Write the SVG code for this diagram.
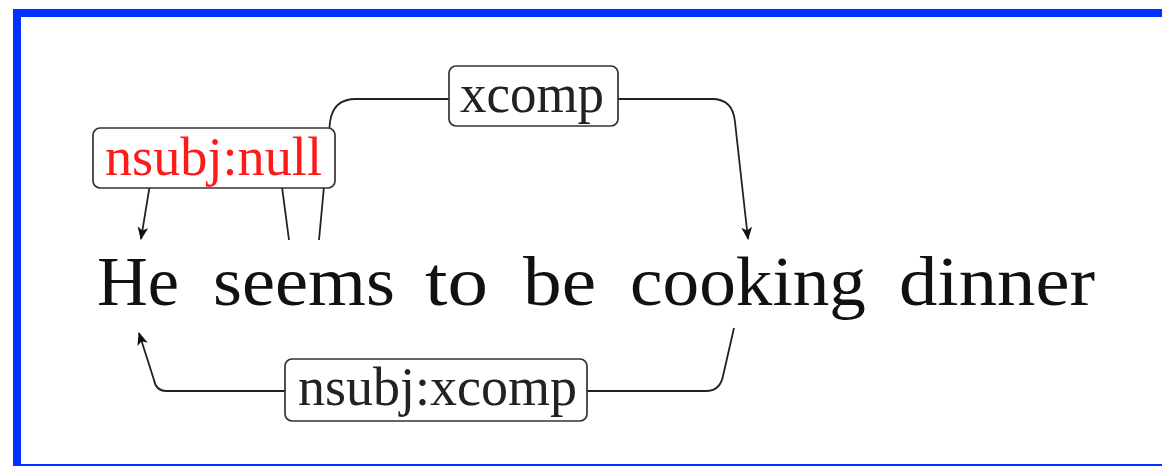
<svg xmlns="http://www.w3.org/2000/svg" width="1162" height="466" viewBox="0 0 1162 466">
<defs>
<style>
.word{font-family:"Liberation Serif","DejaVu Serif",serif;font-size:70px;fill:#111}
.lbl{font-family:"Liberation Serif","DejaVu Serif",serif;font-size:54px;fill:#222}
.box{fill:#fff;stroke:#333;stroke-width:1.7}
.edge{fill:none;stroke:#222;stroke-width:1.8}
</style>
<marker id="arr" viewBox="0 0 12 10" refX="11" refY="5" markerWidth="13" markerHeight="11" markerUnits="userSpaceOnUse" orient="auto">
<path d="M0,0 L12,5 L0,10 L3,5 Z" fill="#111"/>
</marker>
</defs>
<rect x="0" y="0" width="1162" height="466" fill="#fff"/>
<g id="frame" fill="#0033ff">
<rect x="13" y="9" width="1149" height="8"/>
<rect x="13" y="9" width="8" height="457"/>
<rect x="13" y="464" width="1149" height="2"/>
</g>
<g id="connectors">
<path class="edge" d="M289,240 L280,172 Q278,162 268,162 L162,162 Q153,162 152,172 L141,239" marker-end="url(#arr)"/>
<path class="edge" d="M319,240 L330,122 Q333,99 356,99 L712,99 Q733,99 735,122 L748,239" marker-end="url(#arr)"/>
<path class="edge" d="M734,328 L723,376 Q720,391 706,391 L166,391 Q156,391 154,380 L139,333" marker-end="url(#arr)"/>
</g>
<g id="w-He"><text class="word" x="97" y="305" textLength="82" lengthAdjust="spacingAndGlyphs">He</text></g>
<g id="w-seems"><text class="word" x="213" y="305" textLength="182" lengthAdjust="spacingAndGlyphs">seems</text></g>
<g id="w-to"><text class="word" x="425" y="305" textLength="63" lengthAdjust="spacingAndGlyphs">to</text></g>
<g id="w-be"><text class="word" x="523" y="305" textLength="73" lengthAdjust="spacingAndGlyphs">be</text></g>
<g id="w-cooking"><text class="word" x="630" y="305" textLength="236" lengthAdjust="spacingAndGlyphs">cooking</text></g>
<g id="w-dinner"><text class="word" x="899" y="305" textLength="196" lengthAdjust="spacingAndGlyphs">dinner</text></g>
<g id="l-nsubj-null">
<rect class="box" x="93" y="128" width="242" height="60" rx="7"/>
<text class="lbl" x="105" y="175" textLength="217" lengthAdjust="spacingAndGlyphs" style="fill:#ff1a1a">nsubj:null</text>
</g>
<g id="l-xcomp">
<rect class="box" x="449" y="66" width="169" height="60" rx="7"/>
<text class="lbl" x="460" y="112" textLength="144" lengthAdjust="spacingAndGlyphs">xcomp</text>
</g>
<g id="l-nsubj-xcomp">
<rect class="box" x="285" y="359" width="302" height="62" rx="7"/>
<text class="lbl" x="298" y="405" textLength="279" lengthAdjust="spacingAndGlyphs">nsubj:xcomp</text>
</g>
</svg>
